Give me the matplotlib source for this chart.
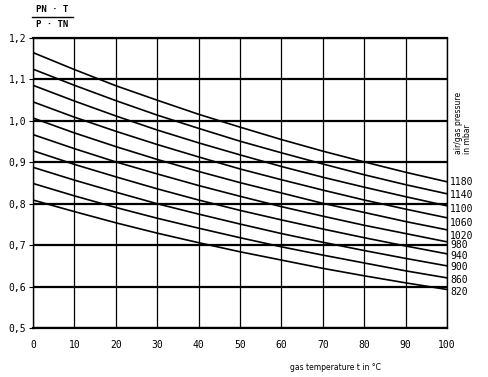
import matplotlib

matplotlib.use("Agg")
import matplotlib.pyplot as plt
from matplotlib.lines import Line2D

# ---- data -------------------------------------------------------------------
TEMPS_C = [0, 10, 20, 30, 40, 50, 60, 70, 80, 90, 100]
PRESSURES_MBAR = [1180, 1140, 1100, 1060, 1020, 980, 940, 900, 860, 820]
CURVES = {
    1180: [1.165, 1.124, 1.085, 1.050, 1.016, 0.985, 0.955, 0.927, 0.901, 0.876, 0.853],
    1140: [1.125, 1.086, 1.049, 1.014, 0.982, 0.951, 0.923, 0.896, 0.870, 0.846, 0.824],
    1100: [1.086, 1.048, 1.012, 0.978, 0.947, 0.918, 0.890, 0.864, 0.840, 0.817, 0.795],
    1060: [1.046, 1.009, 0.975, 0.943, 0.913, 0.884, 0.858, 0.833, 0.809, 0.787, 0.766],
    1020: [1.007, 0.971, 0.938, 0.907, 0.878, 0.851, 0.826, 0.801, 0.779, 0.757, 0.737],
    980: [0.967, 0.933, 0.901, 0.872, 0.844, 0.818, 0.793, 0.770, 0.748, 0.728, 0.708],
    940: [0.928, 0.895, 0.865, 0.836, 0.809, 0.784, 0.761, 0.739, 0.718, 0.698, 0.679],
    900: [0.888, 0.857, 0.828, 0.800, 0.775, 0.751, 0.728, 0.707, 0.687, 0.668, 0.650],
    860: [0.849, 0.819, 0.791, 0.765, 0.741, 0.718, 0.696, 0.676, 0.657, 0.638, 0.621],
    820: [0.809, 0.781, 0.754, 0.729, 0.706, 0.684, 0.664, 0.644, 0.626, 0.609, 0.593],
}
# where the pressure labels sit on the right edge (spread out, not exactly on the curve ends)
LABEL_Y = [0.852, 0.821, 0.788, 0.754, 0.723, 0.700, 0.673, 0.647, 0.615, 0.588]
Y_TICKS = [0.5, 0.6, 0.7, 0.8, 0.9, 1.0, 1.1, 1.2]
Y_TICKLABELS = ["0,5", "0,6", "0,7", "0,8", "0,9", "1,0", "1,1", "1,2"]
X_TICKS = [0, 10, 20, 30, 40, 50, 60, 70, 80, 90, 100]

MONO = "DejaVu Sans Mono"

fig = plt.figure(figsize=(4.88, 3.77), dpi=100)
ax = fig.add_axes([0.0676, 0.130, 0.8484, 0.769])

for y in Y_TICKS:
    ax.axhline(y, color="black", lw=1.6, zorder=1)
for x in X_TICKS:
    ax.axvline(x, color="black", lw=0.9, zorder=1)

for p in PRESSURES_MBAR:
    ax.plot(TEMPS_C, CURVES[p], color="black", lw=1.2, zorder=2)

ax.set_xlim(0, 100)
ax.set_ylim(0.5, 1.2)
ax.set_xticks(X_TICKS, [str(x) for x in X_TICKS], fontfamily=MONO, fontsize=7)
ax.set_yticks(Y_TICKS, Y_TICKLABELS, fontfamily=MONO, fontsize=7)
ax.tick_params(axis="x", length=0, pad=9)
ax.tick_params(axis="y", length=3, width=0.8, pad=2)
for side, sp in ax.spines.items():
    sp.set_linewidth(1.6 if side in ("top", "bottom") else 1.0)

for p, ly in zip(PRESSURES_MBAR, LABEL_Y):
    ax.text(100.8, ly, str(p), fontfamily=MONO, fontsize=7, ha="left", va="center",
            clip_on=False)

ax.text(73, 0.404, "gas temperature t in °C", fontsize=5.5, ha="center", va="center",
        clip_on=False)
fig.text(0.949, 0.592, "air/gas pressure\nin mbar", rotation=90, fontsize=5.5,
         ha="center", va="bottom", ma="left", linespacing=1.1)

# y label as a fraction at the top left
fig.text(0.107, 0.974, "PN · T", fontfamily=MONO, fontsize=6.5, fontweight="bold",
         ha="center", va="center")
fig.add_artist(Line2D([0.066, 0.150], [0.955, 0.955], color="black", lw=1.0,
                      transform=fig.transFigure))
fig.text(0.107, 0.936, "P · TN", fontfamily=MONO, fontsize=6.5, fontweight="bold",
         ha="center", va="center")

fig.savefig("out.png", dpi=100)
